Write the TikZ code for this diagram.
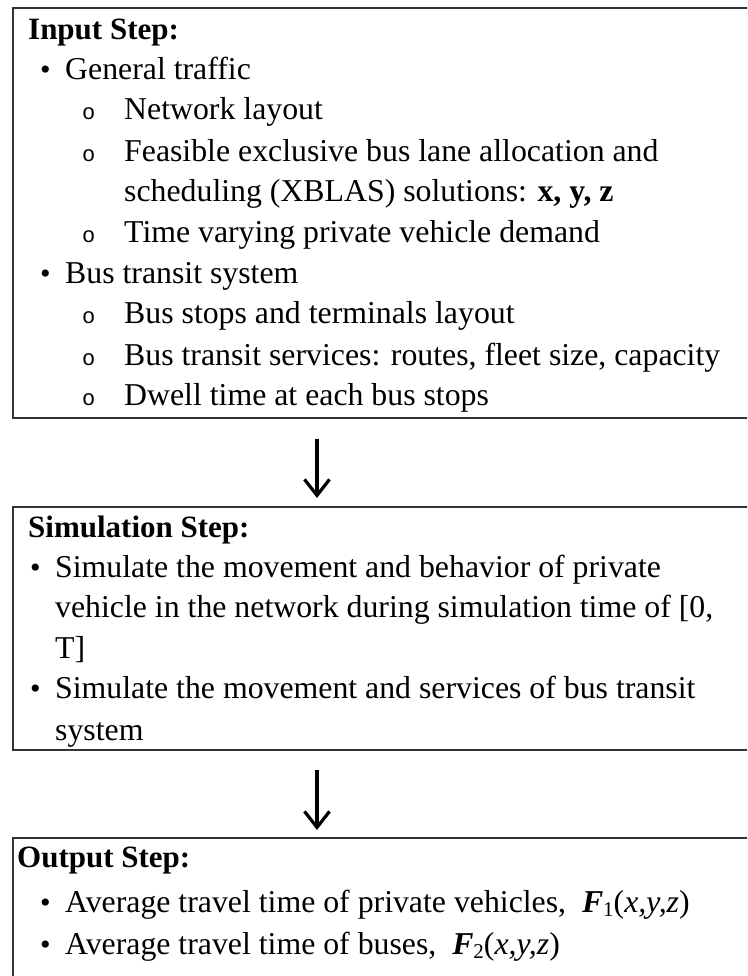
\documentclass[tikz,border=0pt]{standalone}
\usepackage{fontspec}
\setmainfont{Liberation Serif}
\newfontfamily\ringfont{Liberation Mono}
\usetikzlibrary{arrows.meta}

\newcommand\itemdot{\makebox[25pt][l]{\fontsize{30}{34}\selectfont\textbullet}}
\newcommand\itemring{\makebox[42pt][l]{\fontsize{22}{24}\ringfont o}}
\newcommand\objF[1]{\textbf{\textit{F}}\raisebox{-0.3ex}{\fontsize{21}{24}\selectfont #1}(\textit{x,y,z})}

\tikzset{
  stepbox/.style={draw=black!80, line width=1.8pt, anchor=north west, minimum width=780pt, inner sep=0pt},
  line/.style={anchor=base west, inner sep=0pt, font=\fontsize{31.8}{36}\selectfont},
  head/.style={line, font=\fontsize{31}{36}\selectfont\bfseries},
  flow/.style={line width=3.2pt, -{Straight Barb[length=16pt, width=25pt]}},
}

\begin{document}
\begin{tikzpicture}[x=1pt, y=-1pt]
    \useasboundingbox (0,0) rectangle (747,976);
    \clip (0,0) rectangle (747,976);

    % Boxes
    \node[stepbox, minimum height=410pt] at (12, 7) (input) {};
    \node[stepbox, minimum height=243pt] at (12, 506) (sim) {};
    \node[stepbox, minimum height=160pt] at (12, 837) (output) {};

    % Input step
    \node[head] at (28, 40) (ihead) {Input Step:};
    \node[line] at (40, 80) (i1) {\itemdot General traffic};
    \node[line] at (82, 120) (i11) {\itemring Network layout};
    \node[line] at (82, 162) (i12) {\itemring Feasible exclusive bus lane allocation and};
    \node[line] at (124, 202) (i12b) {scheduling (XBLAS) solutions: \textbf{x, y, z}};
    \node[line] at (82, 243) (i13) {\itemring Time varying private vehicle demand};
    \node[line] at (40, 283) (i2) {\itemdot Bus transit system};
    \node[line] at (82, 323) (i21) {\itemring Bus stops and terminals layout};
    \node[line] at (82, 365) (i22) {\itemring Bus transit services: routes, fleet size, capacity};
    \node[line] at (82, 405) (i23) {\itemring Dwell time at each bus stops};

    % Simulation step
    \node[head] at (28, 537) (shead) {Simulation Step:};
    \node[line] at (30, 577) (s1) {\itemdot Simulate the movement and behavior of private};
    \node[line] at (55, 617) (s1b) {vehicle in the network during simulation time of [0,};
    \node[line] at (55, 658) (s1c) {T]};
    \node[line] at (30, 698) (s2) {\itemdot Simulate the movement and services of bus transit};
    \node[line] at (55, 740) (s2b) {system};

    % Output step
    \node[head] at (17, 867) (ohead) {Output Step:};
    \node[line] at (40, 912) (o1) {\itemdot Average travel time of private vehicles,\ \ \objF{1}};
    \node[line] at (40, 954) (o2) {\itemdot Average travel time of buses,\ \ \objF{2}};

    % Arrows
    \coordinate (ax) at (317, 0);
    \draw[flow, shorten <=20pt, shorten >=8pt] (input.south -| ax) -- (sim.north -| ax);
    \draw[flow, shorten <=19pt, shorten >=7pt] (sim.south -| ax) -- (output.north -| ax);

  \end{tikzpicture}
\end{document}
